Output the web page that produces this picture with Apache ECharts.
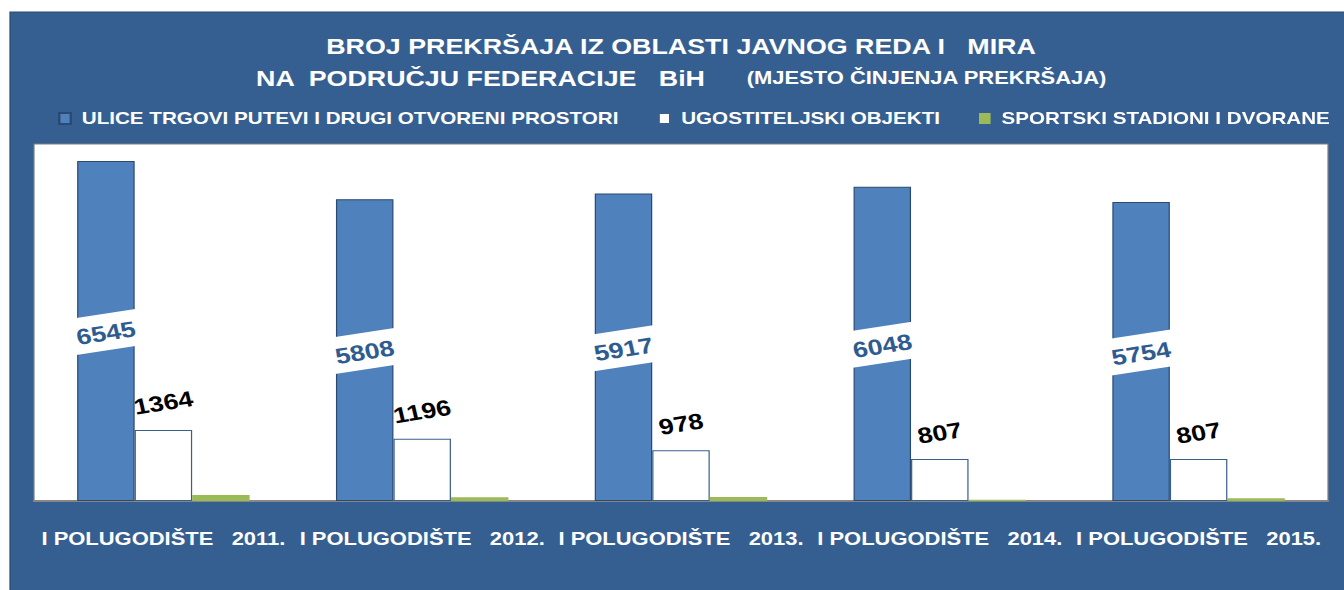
<!DOCTYPE html>
<html>
<head>
<meta charset="utf-8">
<script src="https://cdn.jsdelivr.net/npm/echarts@6/dist/echarts.min.js"></script>
<style>
  html, body { margin: 0; padding: 0; background: #ffffff; overflow: hidden; }
  #chart { position: absolute; left: 0; top: 0; height: 590px; transform-origin: 0 0; }
</style>
</head>
<body>
<div id="chart"></div>
<script>
// Half-year categories
const categories = [
  'I POLUGODIŠTE   2011.',
  'I POLUGODIŠTE   2012.',
  'I POLUGODIŠTE   2013.',
  'I POLUGODIŠTE   2014.',
  'I POLUGODIŠTE   2015.'
];
// Offences by place of commission
const seriesNames = [
  'ULICE TRGOVI PUTEVI I DRUGI OTVORENI PROSTORI',
  'UGOSTITELJSKI OBJEKTI',
  'SPORTSKI STADIONI I DVORANE'
];
const ulice = [6545, 5808, 5917, 6048, 5754];
const ugostiteljski = [1364, 1196, 978, 807, 807];
const sportski = [115, 72, 77, 25, 52];

const titleLine1 = 'BROJ PREKRŠAJA IZ OBLASTI JAVNOG REDA I   MIRA';
const titleLine2 = 'NA  PODRUČJU FEDERACIJE   BiH';
const titleNote = '(MJESTO ČINJENJA PREKRŠAJA)';

// The layout is drawn in a narrower space and widened horizontally,
// which gives the wide bold lettering of the original document.
const STRETCH = 1.22;
const PAGE_W = 1344, PAGE_H = 590;
const W = PAGE_W / STRETCH;
const sx = v => v / STRETCH;

const el = document.getElementById('chart');
el.style.width = W + 'px';
el.style.transform = 'scaleX(' + STRETCH + ')';

const FONT = '"Liberation Sans", Arial, sans-serif';
const BAR_W = sx(57.5);
const TILT = 10.8 * Math.PI / 180;
const BAND_H = 18.5;

// White tilted band with the value, laid across the middle of each blue bar
function bandLabel(params, api) {
  const idx = api.value(0), val = api.value(1);
  const top = api.coord([idx, val]);
  const base = api.coord([idx, 0]);
  const cx = top[0] - BAR_W;
  const cy = (top[1] + base[1]) / 2 + 1;
  const half = BAR_W / 2 + 0.6;
  const s = (BAR_W / 2) * Math.tan(TILT);
  return {
    type: 'group',
    children: [
      {
        type: 'polygon',
        shape: { points: [
          [cx - half, cy - BAND_H + s], [cx + half, cy - BAND_H - s],
          [cx + half, cy + BAND_H - s], [cx - half, cy + BAND_H + s]
        ] },
        style: { fill: '#ffffff' }
      },
      {
        type: 'text', x: cx, y: cy + 1, rotation: TILT,
        style: {
          text: String(val), fill: '#2E5C90',
          font: 'bold 22px ' + FONT,
          align: 'center', verticalAlign: 'middle',
          textAlign: 'center', textVerticalAlign: 'middle'
        }
      }
    ]
  };
}

// Tilted black value above each white bar
function topLabel(params, api) {
  const idx = api.value(0), val = api.value(1);
  const top = api.coord([idx, val]);
  const fs = 22;
  const w = String(val).length * 0.556 * fs;
  const ext = 0.72 * fs * Math.cos(TILT) + w * Math.sin(TILT);
  return {
    type: 'text', x: top[0], y: top[1] - 15 - ext / 2, rotation: TILT,
    style: {
      text: String(val), fill: '#000000',
      font: 'bold ' + fs + 'px ' + FONT,
      align: 'center', verticalAlign: 'middle',
      textAlign: 'center', textVerticalAlign: 'middle'
    }
  };
}

const chart = echarts.init(el, null, { renderer: 'svg', width: W, height: PAGE_H });

chart.setOption({
  animation: false,
  backgroundColor: '#ffffff',
  graphic: [
    {
      type: 'rect', z: -10, silent: true,
      shape: { x: sx(10), y: 12, width: sx(PAGE_W - 10) + 2, height: PAGE_H - 12 + 2 },
      style: { fill: '#365F91', stroke: '#2A4B74', lineWidth: 1 }
    },
    {
      type: 'text', x: sx(681), y: 46,
      style: { text: titleLine1, fill: '#ffffff', font: 'bold 22px ' + FONT,
        align: 'center', verticalAlign: 'middle', textAlign: 'center', textVerticalAlign: 'middle' }
    },
    {
      type: 'text', x: sx(480.5), y: 78,
      style: { text: titleLine2, fill: '#ffffff', font: 'bold 22px ' + FONT,
        align: 'center', verticalAlign: 'middle', textAlign: 'center', textVerticalAlign: 'middle' }
    },
    {
      type: 'text', x: sx(926.5), y: 78,
      style: { text: titleNote, fill: '#ffffff', font: 'bold 18px ' + FONT,
        align: 'center', verticalAlign: 'middle', textAlign: 'center', textVerticalAlign: 'middle' }
    }
  ],
  legend: {
    data: seriesNames,
    left: sx(58), top: 110,
    padding: 0,
    icon: 'rect',
    itemWidth: 9.5, itemHeight: 11,
    itemGap: 32,
    textStyle: { color: '#ffffff', fontWeight: 'bold', fontSize: 16.9, fontFamily: FONT, padding: [0, 0, 0, 4] }
  },
  grid: {
    left: sx(34), right: sx(16), top: 144, bottom: 89,
    show: true, backgroundColor: '#ffffff', borderColor: '#7F7F7F', borderWidth: 1
  },
  xAxis: {
    type: 'category',
    data: categories,
    axisLine: { lineStyle: { color: '#868686', width: 2 } },
    axisTick: { show: false },
    axisLabel: { color: '#ffffff', fontWeight: 'bold', fontSize: 18, fontFamily: FONT, margin: 29, interval: 0 }
  },
  yAxis: {
    type: 'value', min: 0, max: 6870, show: false,
    splitLine: { show: false }
  },
  series: [
    {
      name: seriesNames[0], type: 'bar', data: ulice,
      barWidth: BAR_W, barGap: '0%',
      itemStyle: { color: '#4F81BD', borderColor: '#2B4A72', borderWidth: 1 }
    },
    {
      name: seriesNames[1], type: 'bar', data: ugostiteljski,
      barWidth: BAR_W, barGap: '0%',
      itemStyle: { color: '#ffffff', borderColor: '#3A5F8C', borderWidth: 1 }
    },
    {
      name: seriesNames[2], type: 'bar', data: sportski,
      barWidth: BAR_W, barGap: '0%',
      itemStyle: { color: '#9BBB59' }
    },
    {
      type: 'custom', z: 5, silent: true,
      renderItem: bandLabel,
      data: ulice.map((v, i) => [i, v])
    },
    {
      type: 'custom', z: 5, silent: true,
      renderItem: topLabel,
      data: ugostiteljski.map((v, i) => [i, v])
    }
  ]
});
</script>
</body>
</html>
